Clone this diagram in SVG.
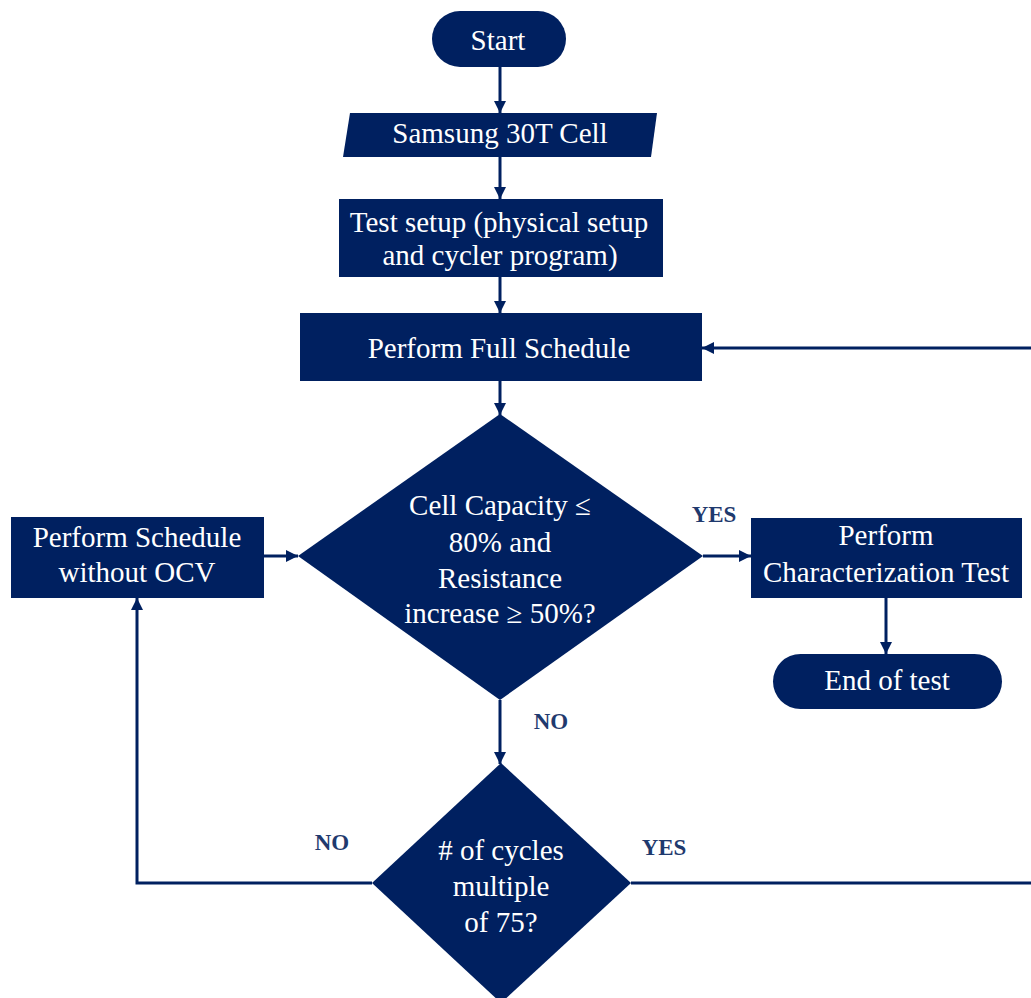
<svg xmlns="http://www.w3.org/2000/svg" width="1031" height="998" viewBox="0 0 1031 998">
<style>
.n{fill:#002060;}
.t{fill:#ffffff;font-family:"Liberation Serif","Times New Roman",serif;font-size:29px;text-anchor:middle;}
.l{fill:#1f3a6e;font-family:"Liberation Serif","Times New Roman",serif;font-size:23px;font-weight:bold;text-anchor:middle;}
.c{fill:none;stroke:#002060;stroke-width:3;}
</style>
<defs>
<marker id="ah" markerWidth="12" markerHeight="12" refX="12" refY="6" orient="auto" markerUnits="userSpaceOnUse">
<path d="M0,0 L12,6 L0,12 z" fill="#002060"/>
</marker>
</defs>
<rect width="1031" height="998" fill="#ffffff"/>
<g id="connectors">
<path class="c" d="M500,67 V113" marker-end="url(#ah)"/>
<path class="c" d="M500,157 V199" marker-end="url(#ah)"/>
<path class="c" d="M500,277 V313" marker-end="url(#ah)"/>
<path class="c" d="M500,381 V415" marker-end="url(#ah)"/>
<path class="c" d="M703,556 H751" marker-end="url(#ah)"/>
<path class="c" d="M886,598 V654" marker-end="url(#ah)"/>
<path class="c" d="M500,700 V764" marker-end="url(#ah)"/>
<path class="c" d="M372,883 H137 V598" marker-end="url(#ah)"/>
<path class="c" d="M264,556 H298" marker-end="url(#ah)"/>
<path class="c" d="M631,883 H1040 V348 H702" marker-end="url(#ah)"/>
<text class="l" x="714" y="522">YES</text>
<text class="l" x="551" y="729">NO</text>
<text class="l" x="332" y="850">NO</text>
<text class="l" x="664" y="855">YES</text>
</g>
<g id="start">
<rect class="n" x="432" y="11" width="134" height="56" rx="28"/>
<text class="t" x="498" y="50">Start</text>
</g>
<g id="samsung">
<polygon class="n" points="350,113 657,113 651,157 343,157"/>
<text class="t" x="500" y="143">Samsung 30T Cell</text>
</g>
<g id="test-setup">
<rect class="n" x="339" y="199" width="324" height="78"/>
<text class="t" x="499" y="232">Test setup (physical setup</text>
<text class="t" x="500" y="265">and cycler program)</text>
</g>
<g id="full-schedule">
<rect class="n" x="300" y="313" width="402" height="68"/>
<text class="t" x="499" y="358">Perform Full Schedule</text>
</g>
<g id="decision-capacity">
<polygon class="n" points="500,414 703,556 500,700 298,556"/>
<text class="t" x="500" y="515">Cell Capacity ≤</text>
<text class="t" x="500" y="552">80% and</text>
<text class="t" x="500" y="588">Resistance</text>
<text class="t" x="500" y="623">increase ≥ 50%?</text>
</g>
<g id="schedule-no-ocv">
<rect class="n" x="11" y="517" width="253" height="81"/>
<text class="t" x="137" y="547">Perform Schedule</text>
<text class="t" x="137" y="582">without OCV</text>
</g>
<g id="characterization">
<rect class="n" x="751" y="518" width="271" height="80"/>
<text class="t" x="886" y="545">Perform</text>
<text class="t" x="886" y="582">Characterization Test</text>
</g>
<g id="end">
<rect class="n" x="773" y="654" width="229" height="55" rx="27.5"/>
<text class="t" x="887" y="690">End of test</text>
</g>
<g id="decision-cycles">
<polygon class="n" points="501,763 631,883 501,1003 372,883"/>
<text class="t" x="501" y="860"># of cycles</text>
<text class="t" x="501" y="896">multiple</text>
<text class="t" x="501" y="932">of 75?</text>
</g>
</svg>
